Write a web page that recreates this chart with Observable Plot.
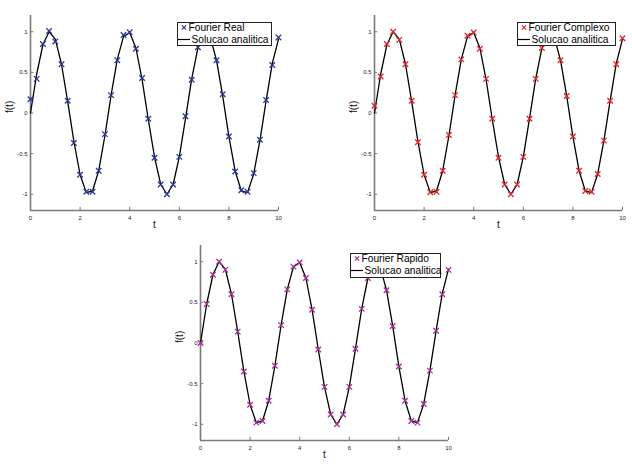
<!DOCTYPE html>
<html>
<head>
<meta charset="utf-8">
<script src="https://cdn.jsdelivr.net/npm/d3@7"></script>
<script src="https://cdn.jsdelivr.net/npm/@observablehq/plot@0.6"></script>
<style>
  body { margin: 0; background: #fff; }
  #wrap { position: relative; width: 632px; height: 464px; overflow: hidden; background: #fff; font-family: Arial, "Liberation Sans", sans-serif; }
  .panel { position: absolute; }
  .legend { position: absolute; background: #fff; border: 1px solid #222; box-sizing: border-box; font-size: 10.2px; color: #000; }
  .legend span { position: absolute; white-space: nowrap; line-height: 1; }
  .legend svg { position: absolute; overflow: visible; }
</style>
</head>
<body>
<div id="wrap"></div>
<script>
const tGrid = [0, 0.25, 0.5, 0.75, 1, 1.25, 1.5, 1.75, 2, 2.25, 2.5, 2.75, 3, 3.25, 3.5, 3.75, 4, 4.25, 4.5, 4.75, 5,
  5.25, 5.5, 5.75, 6, 6.25, 6.5, 6.75, 7, 7.25, 7.5, 7.75, 8, 8.25, 8.5, 8.75, 9, 9.25, 9.5, 9.75, 10];

const analytic = [0, 0.48, 0.84, 1.0, 0.91, 0.6, 0.14, -0.35, -0.76, -0.98, -0.96, -0.71, -0.28, 0.22, 0.66, 0.94, 0.99, 0.8, 0.41, -0.08, -0.54,
  -0.88, -1.0, -0.88, -0.54, -0.07, 0.42, 0.8, 0.99, 0.93, 0.65, 0.21, -0.29, -0.71, -0.96, -0.98, -0.75, -0.34, 0.15, 0.61, 0.91];

const fourierReal = [0.17, 0.42, 0.85, 1.01, 0.88, 0.6, 0.15, -0.37, -0.76, -0.97, -0.97, -0.71, -0.26, 0.22, 0.65, 0.96, 0.995, 0.79, 0.43, -0.07, -0.55,
  -0.88, -1.0, -0.88, -0.54, -0.04, 0.41, 0.81, 0.99, 0.93, 0.65, 0.23, -0.29, -0.72, -0.95, -0.97, -0.74, -0.33, 0.16, 0.59, 0.93];

const fourierComplexo = [0.09, 0.45, 0.85, 1.0, 0.9, 0.6, 0.15, -0.36, -0.76, -0.975, -0.97, -0.71, -0.27, 0.22, 0.66, 0.95, 0.99, 0.79, 0.42, -0.07, -0.55,
  -0.88, -1.0, -0.88, -0.54, -0.07, 0.42, 0.8, 0.99, 0.93, 0.65, 0.21, -0.29, -0.71, -0.96, -0.97, -0.75, -0.34, 0.15, 0.6, 0.92];

const fourierRapido = [0.0, 0.48, 0.84, 1.0, 0.9, 0.6, 0.14, -0.35, -0.76, -0.98, -0.96, -0.71, -0.28, 0.22, 0.66, 0.94, 0.99, 0.8, 0.41, -0.08, -0.54,
  -0.88, -1.0, -0.88, -0.54, -0.07, 0.42, 0.8, 0.99, 0.93, 0.65, 0.21, -0.29, -0.71, -0.96, -0.98, -0.75, -0.34, 0.15, 0.6, 0.9];

const xTicks = [0, 2, 4, 6, 8, 10];
const yTicks = [-1, -0.5, 0, 0.5, 1];
const xLabel = "t";
const yLabel = "f(t)";
const lineLabel = "Solucao analitica";

const panels = [
  { name: "Fourier Real", values: fourierReal, color: "#2b3896", left: 0, top: 0, width: 290,
    legend: { left: 177, top: 22, width: 95, height: 24 } },
  { name: "Fourier Complexo", values: fourierComplexo, color: "#e2262b", left: 344, top: 0, width: 288,
    legend: { left: 517, top: 22, width: 99, height: 24 } },
  { name: "Fourier Rapido", values: fourierRapido, color: "#a3319a", left: 170, top: 230, width: 290,
    legend: { left: 350, top: 253, width: 91, height: 25 } }
];

const wrap = document.getElementById("wrap");
const axisColor = "#7a7a7a";

for (const p of panels) {
  const lineData = tGrid.map((t, i) => ({ t, v: analytic[i] }));
  const dotData = tGrid.map((t, i) => ({ t, v: p.values[i] }));
  const chart = Plot.plot({
    width: p.width,
    height: 235,
    marginLeft: 30,
    marginRight: p.width - 278,
    marginTop: 15,
    marginBottom: 25,
    style: { fontFamily: "Arial, 'Liberation Sans', sans-serif", background: "transparent", overflow: "visible" },
    x: { domain: [0, 10], nice: false },
    y: { domain: [-1.2, 1.2], nice: false },
    marks: [
      Plot.axisX(xTicks, { tickSize: 0, tickPadding: 5, fontSize: 6, label: null, color: "#222" }),
      Plot.axisY(yTicks, { tickSize: 0, tickPadding: 3, fontSize: 6, label: null, color: "#222",
        tickFormat: d => String(d) }),
      Plot.ruleX(xTicks, { x: d => d, y1: -1.2, y2: -1.16, stroke: axisColor, strokeWidth: 1 }),
      Plot.ruleY(yTicks, { y: d => d, x1: 0, x2: 0.13, stroke: axisColor, strokeWidth: 1 }),
      Plot.ruleX([0], { stroke: axisColor, strokeWidth: 1.6 }),
      Plot.ruleY([-1.2], { stroke: axisColor, strokeWidth: 1.6 }),
      Plot.line(lineData, { x: "t", y: "v", stroke: "#000", strokeWidth: 1.3 }),
      Plot.dot(dotData, { x: "t", y: "v", symbol: "times", r: 2.6, stroke: p.color, strokeWidth: 1.3 }),
      Plot.text([xLabel], { frameAnchor: "bottom", dy: 17, fontSize: 10, fill: "#111" }),
      Plot.text([yLabel], { frameAnchor: "left", dx: -21, rotate: -90, fontSize: 10, fill: "#111" })
    ]
  });
  const holder = document.createElement("div");
  holder.className = "panel";
  holder.style.left = p.left + "px";
  holder.style.top = p.top + "px";
  holder.appendChild(chart);
  wrap.appendChild(holder);

  const lg = document.createElement("div");
  lg.className = "legend";
  lg.style.left = p.legend.left + "px";
  lg.style.top = p.legend.top + "px";
  lg.style.width = p.legend.width + "px";
  lg.style.height = p.legend.height + "px";
  const ns = "http://www.w3.org/2000/svg";
  const svg = document.createElementNS(ns, "svg");
  svg.setAttribute("width", p.legend.width);
  svg.setAttribute("height", p.legend.height);
  svg.style.left = "-1px"; svg.style.top = "-1px";
  const s = 2.1;
  const cx = 7, cy = 5.5;
  for (const [a, b, c, d] of [[cx - s, cy - s, cx + s, cy + s], [cx - s, cy + s, cx + s, cy - s]]) {
    const l = document.createElementNS(ns, "line");
    l.setAttribute("x1", a); l.setAttribute("y1", b); l.setAttribute("x2", c); l.setAttribute("y2", d);
    l.setAttribute("stroke", p.color); l.setAttribute("stroke-width", 1.2);
    svg.appendChild(l);
  }
  const ln = document.createElementNS(ns, "line");
  ln.setAttribute("x1", 1); ln.setAttribute("y1", 17.5); ln.setAttribute("x2", 13); ln.setAttribute("y2", 17.5);
  ln.setAttribute("stroke", "#000"); ln.setAttribute("stroke-width", 1.2);
  svg.appendChild(ln);
  lg.appendChild(svg);
  const t1 = document.createElement("span");
  t1.textContent = p.name;
  t1.style.left = "10.5px"; t1.style.top = "0px";
  const t2 = document.createElement("span");
  t2.textContent = lineLabel;
  t2.style.left = "13.5px"; t2.style.top = "12px";
  lg.appendChild(t1); lg.appendChild(t2);
  wrap.appendChild(lg);
}
</script>
</body>
</html>
